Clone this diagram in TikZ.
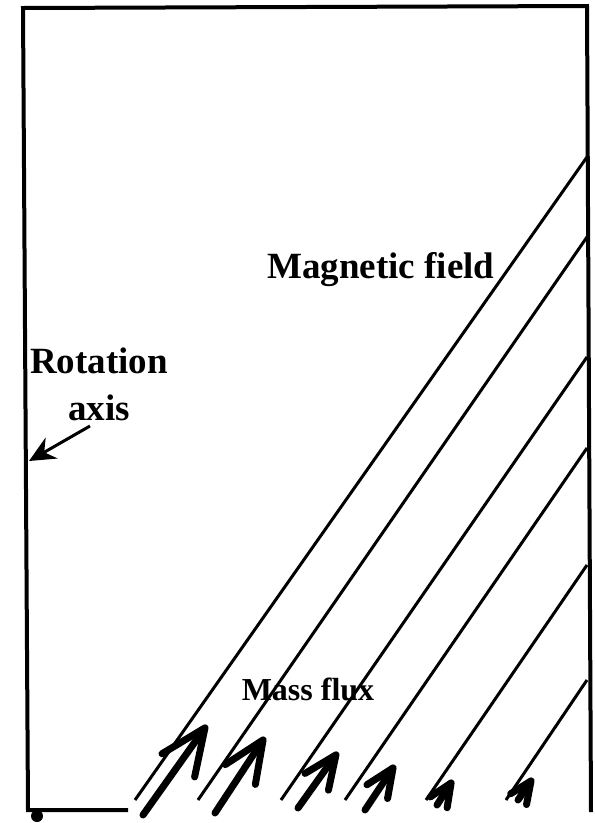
\documentclass[tikz,border=0pt]{standalone}
\usepackage{fontspec}
\setmainfont{Liberation Serif}
\usetikzlibrary{arrows.meta, positioning}

\begin{document}
\begin{tikzpicture}[x=1pt, y=-1pt, >=Stealth,
    frame/.style={line width=4pt},
    fieldline/.style={line width=3pt},
    flux/.style={line width=7pt, line cap=round},
    label/.style={font=\fontsize{37}{47}\selectfont\bfseries, inner sep=0pt, anchor=base}]
  \useasboundingbox (0,0) rectangle (595,823);

  % Box round the star
  \draw[frame] (128,810) -- (28,810) -- (23,8) -- (587,6) -- (591,812);
  \fill (37,816) circle (6);

  % Field lines
  \foreach \ya/\xb in {157/135, 237/198, 357/281, 448/345, 565/426, 680/506}
    \draw[fieldline] (587,\ya) -- (\xb,800);

  % Labels
  \node[label] (field) at (381,278) {Magnetic field};
  \node[label, align=center] (axis) at (99,420) {Rotation\\axis};
  \node[label, font=\fontsize{32}{40}\selectfont\bfseries] (flux) at (308,700) {Mass flux};

  % Rotation axis pointer
  \coordinate (axistail) at (90,426);
  \coordinate (axistip) at (29,461);
  \draw[line width=3pt, -{Stealth[length=26pt, width=24pt]}] (axistail) -- (axistip);

  % Mass flux arrows
  \foreach \n/\xa/\ya/\xb/\yb/\s in {1/143/815/207/725/1, 2/215/813/265/737/0.9,
      3/298/808/338/752/0.72, 4/365/810/395/765/0.62, 5/437/805/453/780/0.5, 6/518/800/533/778/0.48} {
    \coordinate (tail\n) at (\xa,\ya);
    \coordinate (tip\n) at (\xb,\yb);
    \draw[flux, -{Straight Barb[length=46pt, width=40pt, round, scale=\s]}] (tail\n) -- (tip\n);
  }
\end{tikzpicture}
\end{document}
